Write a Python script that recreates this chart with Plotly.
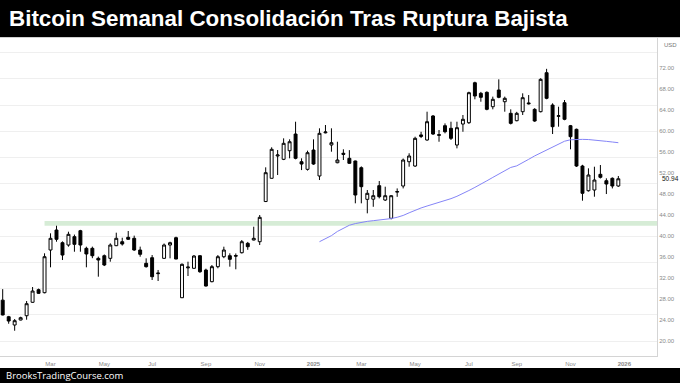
import plotly.graph_objects as go
import pandas as pd

# ---------------- data ----------------
dates = pd.date_range("2024-01-08", periods=104, freq="7D")

opens = [27.8, 24.64, 23.06, 24.01, 24.83, 27.39, 29.79, 29.22, 37.36, 41.17,
         38.75, 38.31, 39.9, 41.04, 37.68, 37.68, 35.77, 36.27, 35.77, 38.18,
         38.94, 39.78, 39.59, 37.36, 34.82, 35.89, 32.85, 35.77, 38.31, 39.7,
         28.26, 33.95, 33.87, 36.27, 33.54, 31.32, 34.18, 36.08, 36.27, 36.3,
         36.84, 38.63, 39.26, 38.94, 46.6, 51.03, 55.28, 54.65, 56.29, 59.47,
         54.19, 52.74, 56.42, 51.47, 59.7, 57.38, 54.0, 55.8, 54.84, 54.33,
         53.05, 47.02, 47.05, 49.62, 46.89, 43.4, 48.4, 49.56, 54.19, 53.37,
         59.0, 58.33, 62.91, 59.35, 61.06, 60.56, 57.38, 61.38, 61.63, 69.25,
         67.23, 67.42, 64.68, 67.86, 65.63, 63.42, 62.01, 63.73, 65.4, 64.18,
         63.73, 71.16, 65.0, 62.85, 65.44, 61.06, 60.37, 53.37, 48.66, 48.8,
         51.79, 50.57, 51.03, 49.56]
highs = [29.9, 24.8, 24.2, 24.64, 27.63, 30.3, 30.0, 36.73, 40.54, 41.99,
         39.0, 40.85, 40.3, 41.2, 37.99, 38.0, 36.1, 36.5, 38.63, 40.66,
         39.7, 40.98, 40.1, 38.0, 35.77, 36.4, 33.55, 38.6, 38.94, 39.9,
         34.8, 35.13, 36.4, 36.4, 33.8, 34.5, 36.4, 37.99, 36.73, 36.7,
         39.26, 38.9, 41.8, 44.03, 53.12, 56.94, 56.42, 58.65, 58.46, 61.82,
         54.84, 56.3, 58.46, 60.56, 61.19, 60.56, 58.0, 56.56, 56.4, 54.4,
         53.3, 48.8, 48.8, 50.51, 49.43, 47.8, 49.1, 54.8, 55.8, 58.96,
         59.9, 63.73, 63.1, 60.24, 61.5, 61.82, 61.82, 63.1, 67.54, 69.45,
         67.5, 67.6, 66.6, 69.9, 66.6, 64.18, 63.7, 67.23, 66.9, 64.4,
         70.1, 71.9, 65.33, 64.68, 65.96, 61.2, 60.5, 53.6, 52.93, 53.24,
         53.56, 51.03, 51.2, 51.47]
lows = [24.9, 23.3, 21.97, 23.95, 24.07, 27.3, 29.0, 29.1, 34.06, 38.94,
        35.45, 37.99, 37.03, 37.03, 34.06, 35.8, 32.27, 34.3, 35.13, 38.1,
        38.2, 39.3, 37.2, 36.08, 34.0, 31.64, 31.45, 35.7, 35.77, 35.6,
        28.2, 32.4, 33.8, 33.0, 30.4, 31.2, 33.87, 35.8, 34.18, 33.68,
        36.7, 37.4, 39.2, 38.31, 46.5, 51.0, 51.66, 54.5, 54.84, 54.65,
        52.6, 52.5, 53.6, 50.7, 59.6, 56.1, 53.9, 54.52, 53.8, 46.26,
        46.26, 44.35, 45.6, 47.2, 46.7, 43.2, 47.5, 49.1, 53.24, 53.2,
        58.7, 58.2, 59.3, 58.0, 59.6, 58.33, 56.74, 59.9, 61.4, 66.09,
        65.63, 64.0, 64.18, 66.3, 63.73, 61.3, 61.9, 63.1, 65.1, 61.8,
        63.6, 66.1, 59.47, 60.87, 62.1, 56.56, 53.2, 46.76, 48.5, 47.52,
        51.0, 48.03, 49.1, 49.4]
closes = [24.97, 23.82, 23.88, 24.45, 27.12, 29.54, 29.1, 36.08, 39.59, 39.4,
          36.4, 40.35, 38.44, 38.31, 36.6, 36.27, 35.45, 34.5, 38.31, 39.59,
          38.5, 39.4, 37.36, 36.54, 34.18, 32.27, 32.95, 38.31, 38.75, 35.64,
          34.63, 34.1, 36.21, 33.22, 30.49, 34.18, 36.08, 37.36, 35.58, 36.2,
          38.94, 37.99, 39.59, 43.59, 52.1, 56.56, 55.47, 57.7, 58.0, 54.84,
          53.75, 55.91, 53.75, 59.61, 59.85, 57.82, 54.52, 55.6, 53.89, 47.84,
          49.43, 48.17, 47.71, 47.52, 47.71, 47.71, 48.5, 54.52, 55.28, 58.65,
          59.3, 61.82, 59.47, 59.25, 59.91, 58.65, 60.68, 62.28, 67.35, 66.72,
          66.47, 64.18, 66.09, 66.47, 66.28, 61.51, 63.42, 66.4, 65.25, 61.95,
          69.9, 66.28, 60.87, 62.95, 62.28, 58.96, 53.37, 48.17, 51.66, 50.7,
          51.22, 49.94, 49.56, 50.94]

ma_start = 53
ma_values = [38.94, 39.45, 40.1, 40.9, 41.55, 42.08, 42.4, 42.64, 42.82, 42.95,
             43.07, 43.2, 43.35, 43.6, 43.95, 44.45, 44.95, 45.38, 45.75, 46.1,
             46.37, 46.75, 47.15, 47.6, 48.1, 48.7, 49.3, 49.85, 50.55, 51.2,
             51.85, 52.55, 53.1, 53.4, 53.95, 54.65, 55.3, 55.85, 56.45, 57.0,
             57.6, 58.1, 58.38, 58.46, 58.45, 58.42, 58.35, 58.22, 58.08, 57.95,
             57.82]

tick_dates = ["2024-03-04", "2024-05-06", "2024-07-01", "2024-09-02", "2024-11-04",
              "2025-01-06", "2025-03-03", "2025-05-05", "2025-07-07", "2025-09-01",
              "2025-11-03", "2026-01-05"]
tick_text = ["Mar", "May", "Jul", "Sep", "Nov", "<b>2025</b>", "Mar", "May", "Jul",
             "Sep", "Nov", "<b>2026</b>"]
price_ticks = list(range(20, 73, 4))
grid_ticks = list(range(20, 80, 5))

band_low, band_high = 42.0, 42.9
band_start = "2024-02-26"
last_price = 50.94

title_text = "Bitcoin Semanal Consolidación Tras Ruptura Bajista"
footer_text = "BrooksTradingCourse.com"

# ---------------- layout constants ----------------
W, H = 680, 383
M_L, M_R, M_T, M_B = 0, 23, 38, 27
PLOT_H = H - M_T - M_B
x_range = ["2024-01-04 20:00", "2026-02-12 07:00"]
y_range = [17.15, 77.78]


def py(pix):
    """pixel row -> paper y"""
    return (H - M_B - pix) / PLOT_H


fig = go.Figure()

fig.add_trace(go.Candlestick(
    x=dates, open=opens, high=highs, low=lows, close=closes,
    increasing=dict(line=dict(color="black", width=1), fillcolor="white"),
    decreasing=dict(line=dict(color="black", width=1), fillcolor="black"),
    whiskerwidth=0, showlegend=False, hoverinfo="skip",
))

fig.add_trace(go.Scatter(
    x=dates[ma_start:], y=ma_values, mode="lines",
    line=dict(color="#8585f7", width=1), showlegend=False, hoverinfo="skip",
    yaxis="y2",
))

full_w = 1 + M_R / (W - M_L - M_R)
shapes = [
    dict(type="rect", xref="x", yref="y", x0=band_start, x1=x_range[1],
         y0=band_low, y1=band_high, fillcolor="#d6ecd6", line=dict(width=0),
         layer="between"),
    dict(type="rect", xref="paper", yref="paper", x0=0, x1=full_w,
         y0=py(37), y1=py(0), fillcolor="black", line=dict(width=0), layer="above"),
    dict(type="line", xref="paper", yref="paper", x0=0, x1=full_w,
         y0=py(37.5), y1=py(37.5), line=dict(color="#cfcfcf", width=1)),
    dict(type="rect", xref="paper", yref="paper", x0=0, x1=full_w,
         y0=py(383), y1=py(368), fillcolor="black", line=dict(width=0), layer="above"),
]

annotations = [
    dict(text=f"<b>{title_text}</b>", xref="paper", yref="paper", x=0, y=py(19),
         xanchor="left", yanchor="middle", xshift=7, showarrow=False,
         font=dict(family="Liberation Sans, Arial, sans-serif", size=22.4, color="white")),
    dict(text=footer_text, xref="paper", yref="paper", x=0, y=py(375.5),
         xanchor="left", yanchor="middle", xshift=4, showarrow=False,
         font=dict(family="Open Sans, sans-serif", size=9.5, color="white")),
    dict(text="USD", xref="paper", yref="paper", x=1, y=py(45),
         xanchor="left", yanchor="middle", xshift=5, showarrow=False,
         font=dict(family="Liberation Sans, Arial", size=6, color="#777777")),
    dict(text=f"{last_price:.2f}", xref="paper", yref="y2", x=1, y=last_price,
         xanchor="left", yanchor="middle", xshift=3, showarrow=False,
         font=dict(family="Liberation Sans, Arial", size=6.5, color="#111111")),
]

fig.update_layout(
    width=W, height=H,
    margin=dict(l=M_L, r=M_R, t=M_T, b=M_B, pad=0),
    paper_bgcolor="white", plot_bgcolor="white",
    showlegend=False,
    shapes=shapes, annotations=annotations,
    xaxis=dict(type="date", range=x_range, rangeslider=dict(visible=False),
               showgrid=False, zeroline=False, tickvals=tick_dates, ticktext=tick_text,
               ticks="", tickfont=dict(family="Liberation Sans, Arial", size=6, color="#8a8a8a"),
               showline=True, linecolor="#d4d4d4", linewidth=1, automargin=False,
               ticklabelstandoff=2),
    yaxis=dict(range=y_range, tickvals=grid_ticks, showticklabels=False, showgrid=True,
               gridcolor="#efefef", gridwidth=1, zeroline=False, ticks="", automargin=False,
               fixedrange=True),
    yaxis2=dict(range=y_range, overlaying="y", side="right", tickvals=price_ticks,
                tickformat=".2f", showgrid=False, zeroline=False, ticks="",
                showline=True, linecolor="#d4d4d4", linewidth=1,
                tickfont=dict(family="Liberation Sans, Arial", size=6, color="#8a8a8a"),
                automargin=False),
)

fig.write_html("out.html")
